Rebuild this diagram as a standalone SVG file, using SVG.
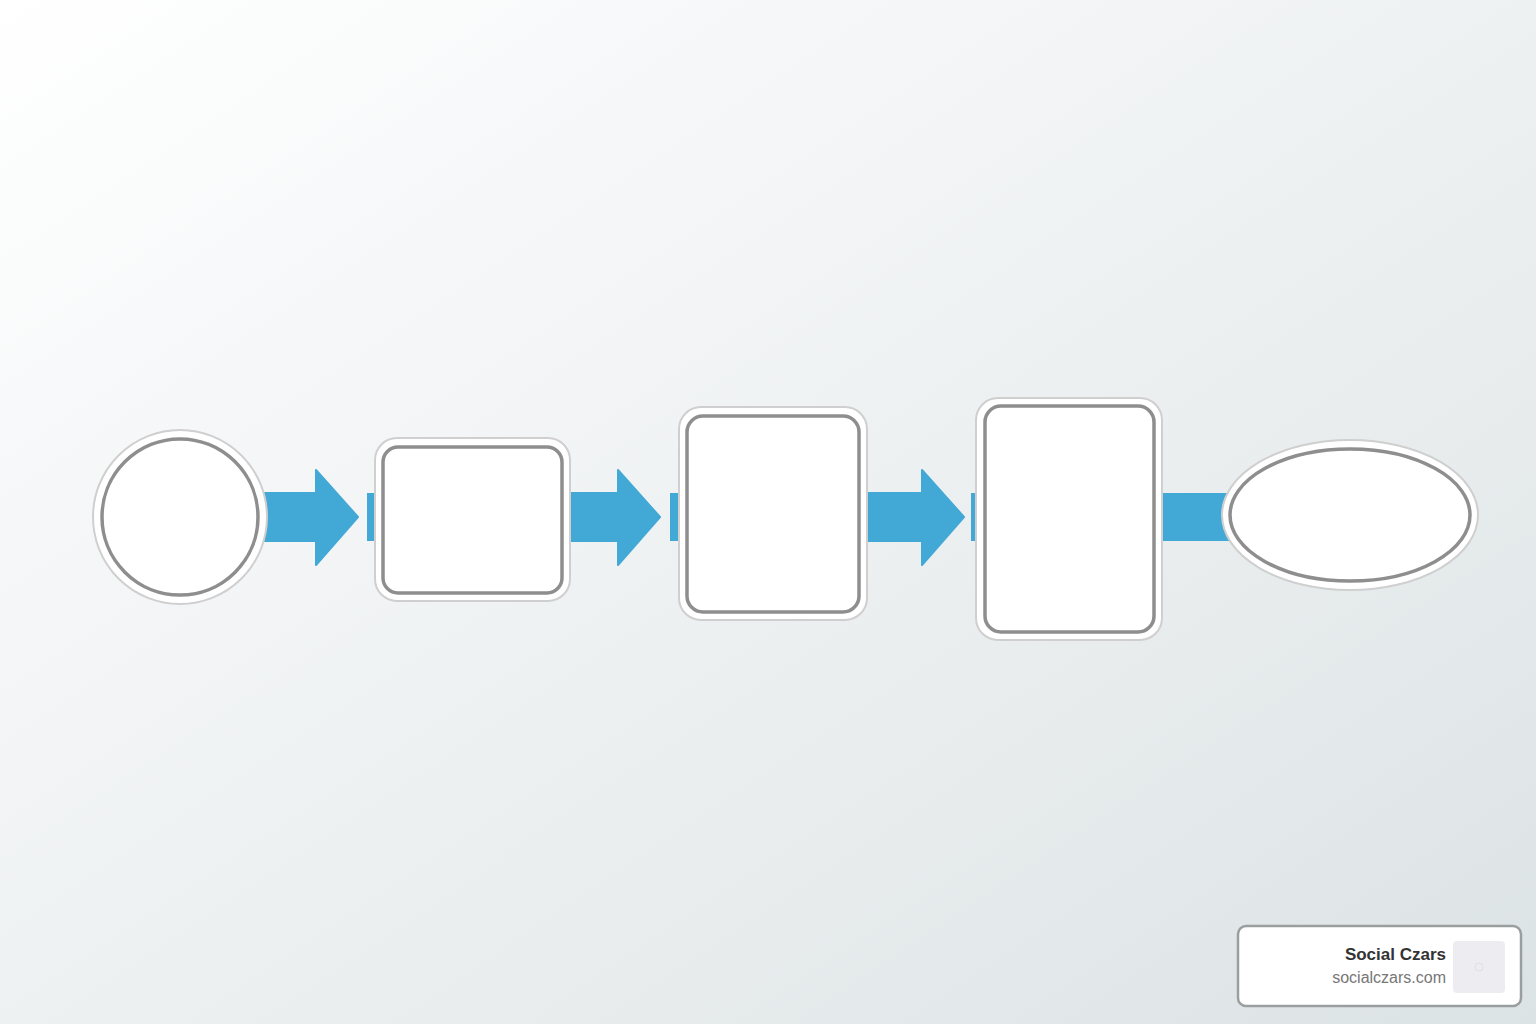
<svg xmlns="http://www.w3.org/2000/svg" width="1536" height="1024" viewBox="0 0 1536 1024">
<defs>
<linearGradient id="bg" x1="0" y1="0" x2="1" y2="1">
<stop offset="0" stop-color="#ffffff"/>
<stop offset="0.5" stop-color="#eef1f2"/>
<stop offset="1" stop-color="#dce3e5"/>
</linearGradient>
</defs>
<style>
.outer{fill:#ffffff;stroke:#cfcfcf;stroke-width:2}
.inner{fill:#ffffff;stroke:#8e8e8e;stroke-width:3.5}
.arrow{fill:#42a8d6}
.t1{font-family:"Liberation Sans",Arial,sans-serif;font-weight:bold;font-size:17px;fill:#333333}
.t2{font-family:"Liberation Sans",Arial,sans-serif;font-size:16px;fill:#777777}
</style>
<rect width="1536" height="1024" fill="url(#bg)"/>
<g id="connectors">
<path class="arrow" d="M262 493 H316 V470 L358 517 L316 565 V541 H262 Z" stroke="#42a8d6" stroke-width="2" stroke-linejoin="round"/>
<rect class="arrow" x="367" y="493" width="10" height="48"/>
<path class="arrow" d="M566 493 H618 V470 L660 517 L618 565 V541 H566 Z" stroke="#42a8d6" stroke-width="2" stroke-linejoin="round"/>
<rect class="arrow" x="670" y="493" width="12" height="48"/>
<path class="arrow" d="M863 493 H922 V470 L964 517 L922 565 V541 H863 Z" stroke="#42a8d6" stroke-width="2" stroke-linejoin="round"/>
<rect class="arrow" x="971" y="493" width="9" height="48"/>
<rect class="arrow" x="1160" y="493" width="80" height="48"/>
</g>
<g id="node1">
<circle class="outer" cx="180" cy="517" r="87"/>
<circle class="inner" cx="180" cy="517" r="78"/>
</g>
<g id="node2">
<rect class="outer" x="375" y="438" width="195" height="163" rx="22"/>
<rect class="inner" x="383" y="447" width="179" height="146" rx="15"/>
</g>
<g id="node3">
<rect class="outer" x="679" y="407" width="188" height="213" rx="22"/>
<rect class="inner" x="687" y="416" width="172" height="196" rx="16"/>
</g>
<g id="node4">
<rect class="outer" x="976" y="398" width="186" height="242" rx="22"/>
<rect class="inner" x="985" y="406" width="169" height="226" rx="16"/>
</g>
<g id="node5">
<ellipse class="outer" cx="1350" cy="515" rx="128" ry="75"/>
<ellipse class="inner" cx="1350" cy="515" rx="120" ry="66"/>
</g>
<g id="badge">
<rect x="1238" y="926" width="283" height="80" rx="8" fill="#ffffff" stroke="#9a9e9f" stroke-width="2.5"/>
<text class="t1" x="1446" y="960" text-anchor="end">Social Czars</text>
<text class="t2" x="1446" y="983" text-anchor="end">socialczars.com</text>
<rect x="1453" y="941" width="52" height="52" rx="4" fill="#ededf1"/>
<circle cx="1479" cy="967" r="4" fill="none" stroke="#e0e0e4" stroke-width="1"/>
</g>
</svg>
